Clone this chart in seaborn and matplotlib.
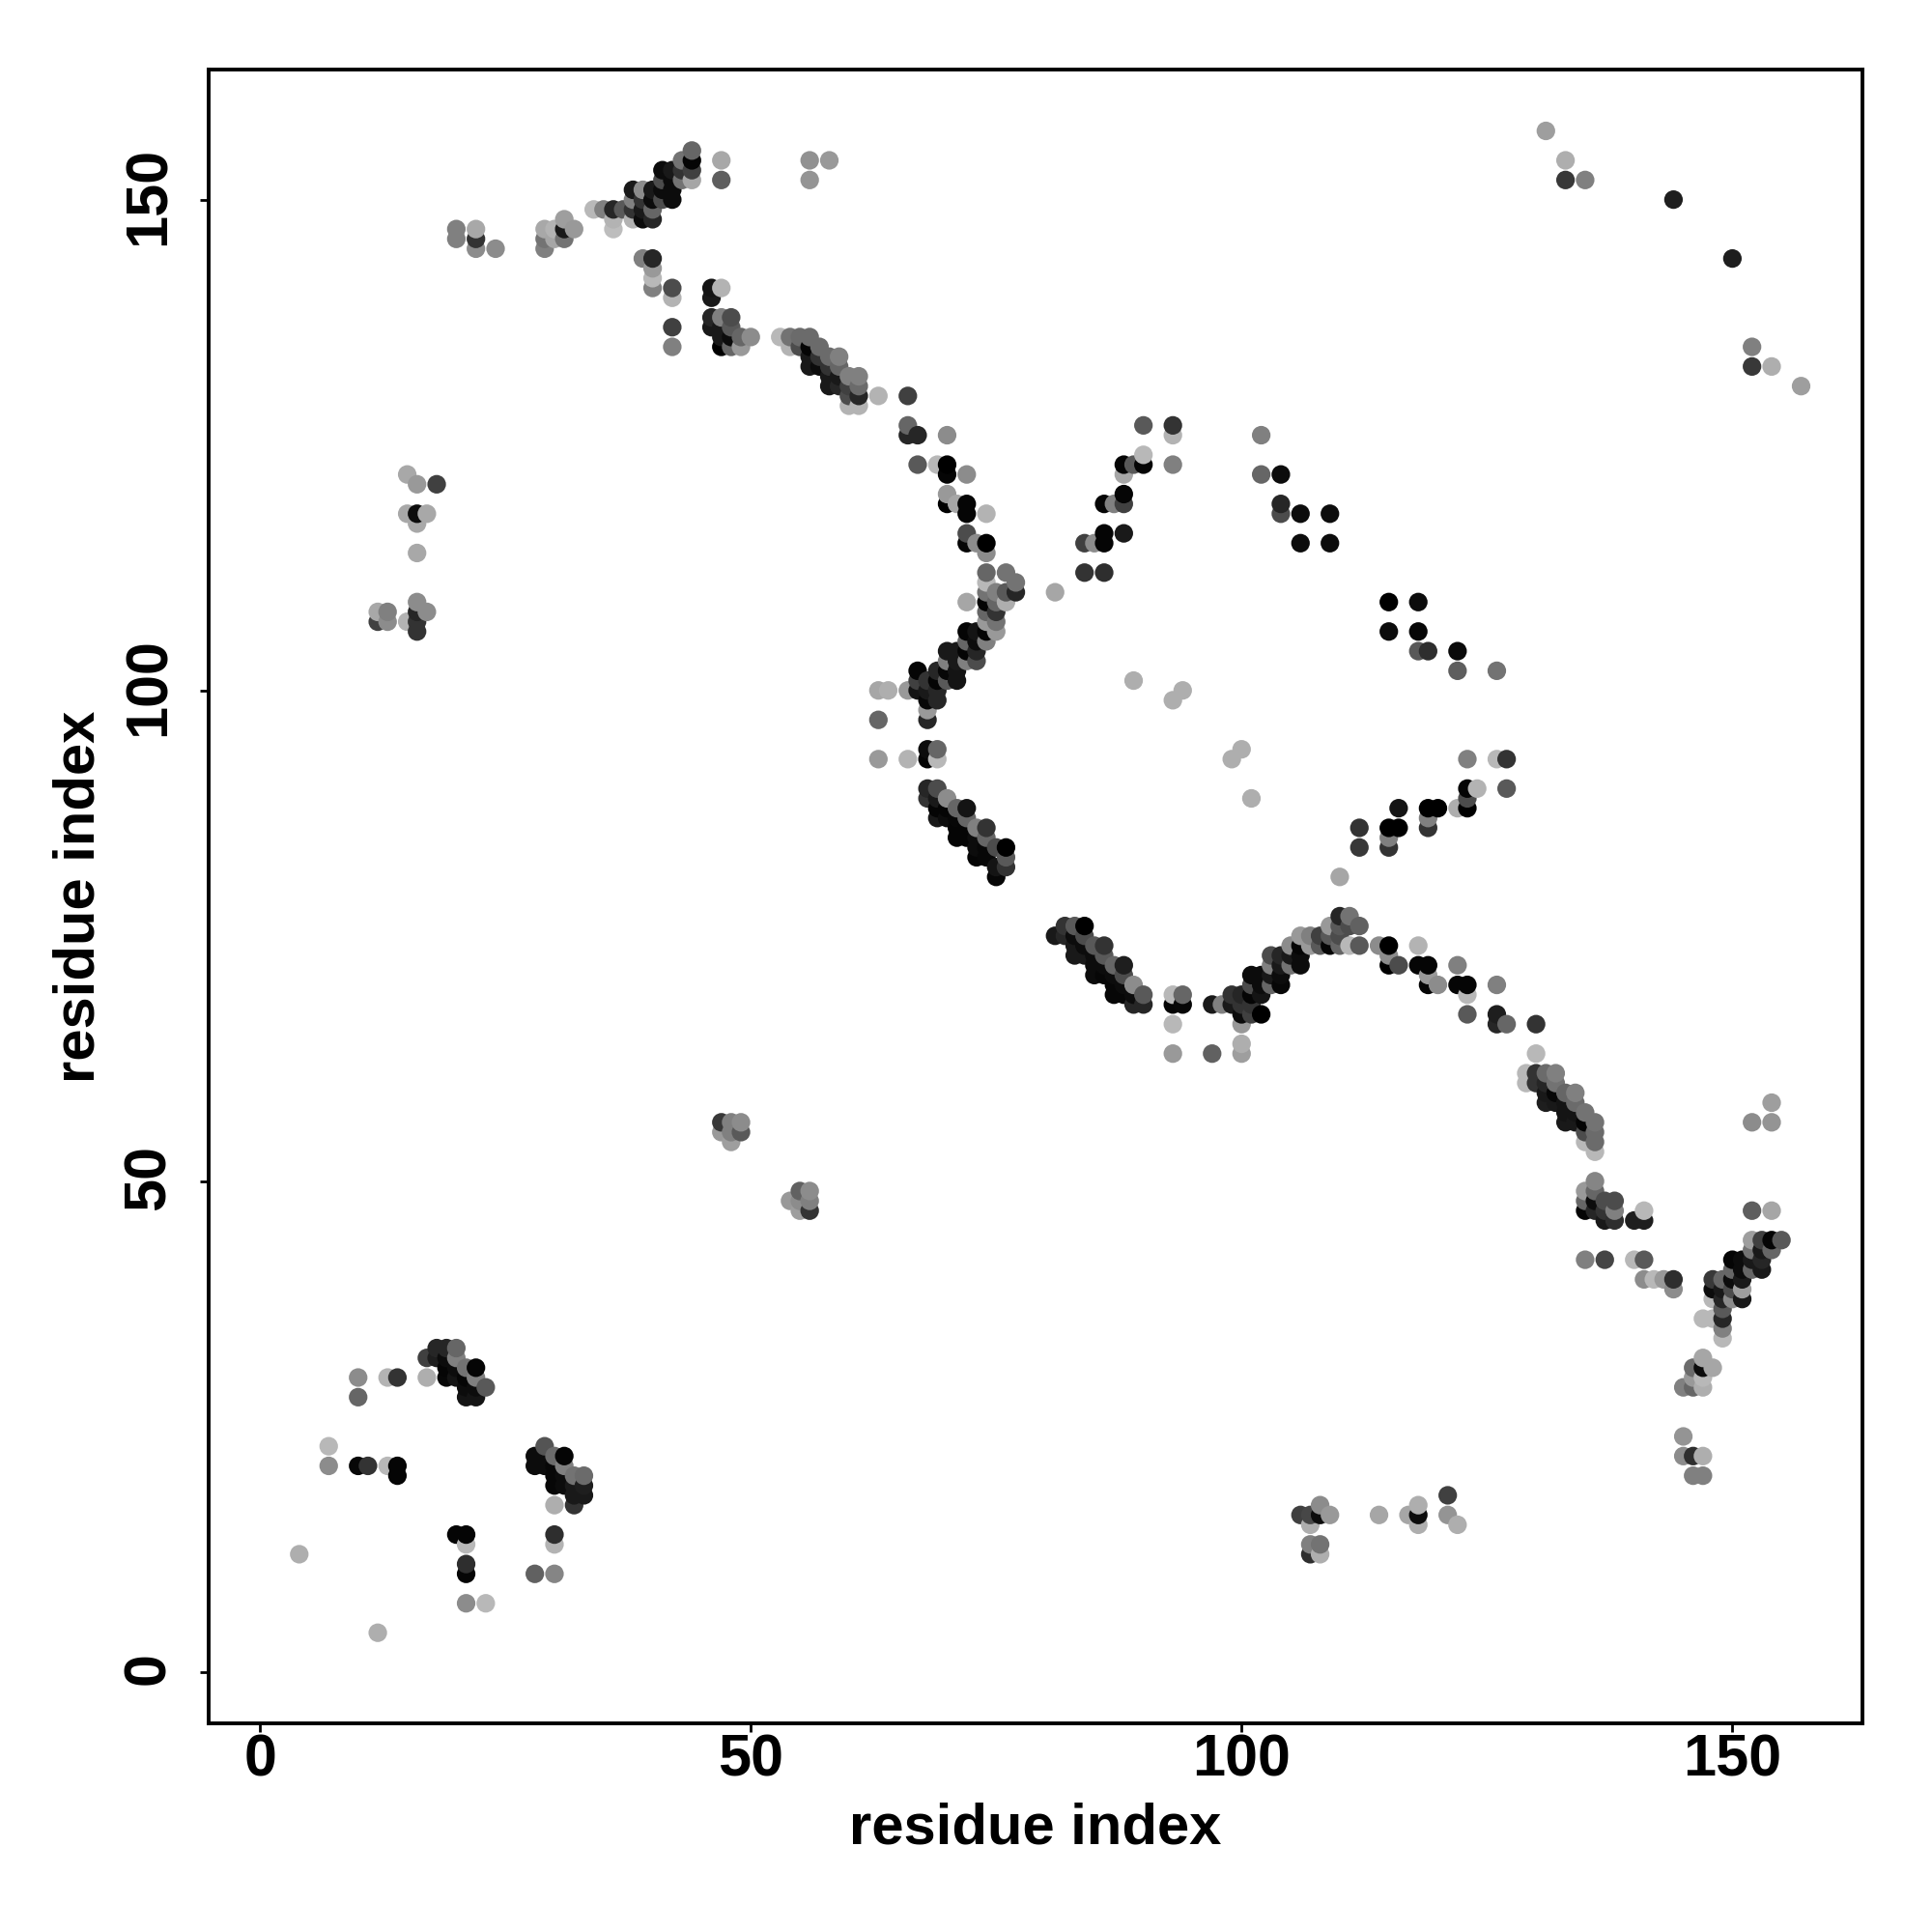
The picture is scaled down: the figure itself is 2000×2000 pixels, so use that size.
import matplotlib
matplotlib.use("Agg")
import matplotlib.pyplot as plt
from matplotlib.transforms import ScaledTranslation
import pandas as pd
import seaborn as sns

sns.set_style("white")
plt.rcParams["font.family"] = ["Liberation Sans", "DejaVu Sans"]
plt.rcParams["font.weight"] = "bold"

residue_x = [
 4,7,7,10,10,10,11,12,12,12,13,13,13,13,14,14,14,
 15,15,15,16,16,16,16,16,16,16,16,17,17,17,18,
 17,18,18,19,19,19,19,20,20,20,20,20,20,21,21,21,21,22,22,22,22,23,
 20,21,21,21,21,21,22,22,22,23,23,24,
 28,29,28,29,29,30,30,30,30,31,31,31,31,32,32,32,33,33,33,
 28,30,30,30,30,32,
 29,29,29,30,30,31,31,31,32,34,35,36,37,36,36,
 38,39,40,38,38,38,39,39,39,40,40,40,
 41,41,41,41,42,42,42,42,43,43,43,44,44,44,44,47,47,56,58,56,
 39,40,40,40,40,42,42,46,46,47,42,42,
 46,46,47,47,47,47,48,48,48,48,49,49,50,
 53,54,54,55,55,56,56,56,56,57,57,57,58,58,58,58,59,59,59,59,60,60,60,60,61,61,61,61,63,
 66,66,66,67,70,67,69,70,70,72,70,70,71,72,72,74,72,72,73,74,74,
 74,74,76,77,77,76,76,75,74,74,74,74,75,75,75,75,74,74,72,
 72,73,72,73,72,73,72,73,70,71,70,71,70,71,70,71,
 69,69,69,69,68,68,68,68,68,67,67,67,66,64,63,63,63,66,68,69,68,69,
 68,69,68,70,69,69,70,69,71,72,70,71,72,73,71,72,71,72,74,74,73,73,73,74,74,75,76,76,76,75,75,
 81,84,86,84,85,86,86,88,86,87,88,88,88,89,90,88,90,90,93,93,93,
 102,102,104,104,104,106,106,109,109,89,94,93,100,99,101,
 47,47,48,48,48,49,49,54,55,55,55,56,56,56,
 110,81,82,82,83,83,83,83,84,84,84,84,85,86,85,86,85,86,85,86,87,88,87,88,87,88,87,88,
 89,90,89,89,90,93,94,93,94,93,93,97,97,98,99,100,99,100,100,101,102,100,100,100,
 101,102,101,102,101,102,101,103,104,103,104,103,104,103,104,
 105,105,105,106,106,106,106,107,107,108,108,109,109,109,
 110,111,110,110,110,111,111,112,112,114,115,115,115,116,118,118,119,119,119,120,
 122,122,123,123,123,126,126,126,127,130,130,
 129,129,130,130,131,131,131,131,132,132,132,132,133,133,133,133,134,134,134,134,
 135,135,135,135,136,136,136,136,
 135,135,135,136,136,136,136,137,137,137,138,138,138,140,141,141,
 135,137,140,141,141,142,143,144,144,
 148,148,148,149,149,149,149,149,149,149,147,148,
 150,150,150,150,150,151,151,151,151,151,152,152,152,152,153,153,153,153,154,154,155,
 152,154,152,154,154,
 147,146,147,148,146,147,145,146,147,145,145,146,147,146,147,
 106,107,107,108,108,109,107,107,108,108,114,117,118,118,118,121,121,122,
 115,118,115,118,118,119,122,122,126,
 123,126,127,123,124,127,123,122,123,116,119,120,119,119,112,112,115,116,115,115,
 131,133,133,135,144,150,152,152,154,157,
]
residue_y = [
 12,23,21,30,28,21,21,4,107,108,30,21,108,107,30,21,20,
 122,118,107,121,118,117,114,109,108,107,106,118,108,30,121,
 32,33,32,33,32,31,30,33,32,31,30,147,146,31,30,29,28,31,30,29,28,29,
 14,14,13,11,10,7,147,146,145,7,29,145,
 10,23,22,22,21,22,21,20,19,22,21,20,19,20,19,18,20,19,18,
 21,10,14,13,17,17,
 147,146,145,147,146,148,147,146,147,149,149,149,149,148,147,
 151,151,151,150,149,148,150,149,148,150,149,148,
 153,152,151,150,153,152,151,150,154,153,152,155,154,153,152,154,152,154,154,152,
 144,144,143,142,141,141,140,141,140,141,137,135,
 138,137,138,137,136,135,138,137,136,135,136,135,136,
 136,136,135,136,135,136,135,134,133,135,134,133,134,133,132,131,134,133,132,131,132,131,130,129,132,131,130,129,130,
 130,127,126,126,126,123,123,123,122,122,120,119,119,119,118,118,116,115,115,115,114,
 112,111,112,111,110,110,109,110,110,109,108,107,109,108,107,106,106,105,109,
 106,106,105,105,104,104,103,103,104,104,103,103,102,102,101,101,
 102,101,100,99,101,100,99,98,97,102,101,100,100,100,100,97,93,93,94,94,93,93,
 90,90,89,89,89,88,88,87,88,88,87,87,87,86,86,86,85,85,86,85,85,84,83,84,83,84,84,83,82,82,81,
 110,112,112,115,115,115,116,116,119,119,119,120,123,123,123,122,124,127,127,126,123,
 126,122,122,119,118,118,115,118,115,101,100,99,94,93,89,
 56,55,56,55,54,56,55,48,49,48,47,49,48,47,
 81,75,76,75,76,75,74,73,76,75,74,73,74,74,73,73,72,72,71,71,72,72,71,71,70,70,69,69,
 70,69,69,68,68,69,69,68,68,66,63,68,63,68,69,69,68,68,67,67,67,66,64,63,
 71,71,70,70,69,69,68,73,73,72,72,71,71,70,70,
 74,73,72,73,72,75,74,75,74,75,74,76,75,74,
 77,77,76,75,74,76,74,76,74,74,74,73,72,72,74,72,72,71,70,70,
 72,70,70,69,67,70,67,66,66,66,63,
 61,60,61,60,61,60,59,58,61,60,59,58,59,58,57,56,59,58,57,56,
 57,56,55,54,56,55,54,53,
 49,48,47,50,49,48,47,48,47,46,48,47,46,46,47,46,
 42,42,42,42,40,40,40,40,39,
 40,39,38,40,39,38,37,36,35,34,36,36,
 42,41,40,39,38,42,41,40,39,38,44,43,42,41,44,43,42,41,44,43,44,
 47,47,56,56,58,
 32,31,31,31,30,30,29,29,29,24,22,22,22,20,20,
 16,16,15,17,16,16,13,12,13,12,16,16,17,16,15,18,16,15,
 109,109,106,106,104,104,104,102,102,
 93,93,93,90,90,90,89,88,88,88,88,88,87,86,86,84,86,86,85,84,
 157,154,152,152,150,144,135,133,133,131,
]
shade = [
 .68,.72,.55,.55,.4,.03,.2,.68,.25,.66,.7,.72,.5,.55,.2,.02,.02,
 .66,.66,.7,.6,.05,.66,.66,.55,.15,.2,.2,.66,.55,.68,.25,
 .25,.15,.12,.15,.05,.02,.03,.4,.5,.05,.08,.5,.5,.45,.02,.05,.08,.02,.5,.05,.08,.35,
 .02,.02,.72,.18,.02,.55,.66,.2,.55,.72,.35,.55,
 .38,.33,.05,.05,.05,.42,.03,.03,.03,.02,.5,.05,.05,.45,.1,.1,.42,.12,.1,
 .05,.52,.18,.7,.68,.2,
 .66,.45,.5,.7,.65,.62,.1,.45,.6,.72,.5,.15,.35,.7,.74,
 .1,.55,.1,.5,.2,.7,.2,.1,.05,.05,.4,.15,
 .05,.3,.05,.3,.1,.05,.05,.05,.45,.2,.45,.4,.02,.25,.65,.66,.37,.57,.6,.58,
 .5,.15,.6,.72,.5,.3,.7,.08,.1,.7,.25,.5,
 .15,.1,.5,.1,.1,.0,.3,.35,.05,.4,.4,.6,.55,
 .72,.45,.7,.42,.3,.42,.02,.1,.1,.42,.2,.05,.42,.2,.1,.1,.5,.4,.1,.15,.5,.25,.3,.7,.5,.42,.15,.7,.7,
 .25,.4,.15,.15,.55,.35,.72,.0,.02,.55,.6,.0,.65,.02,.02,.7,.3,.02,.55,.0,.55,
 .4,.72,.45,.45,.15,.35,.68,.5,.45,.02,.4,.6,.4,.2,.45,.6,.02,.5,.65,
 .02,.08,.4,.05,.02,.15,.5,.3,.1,.1,.5,.1,.03,.08,.35,.08,
 .15,.02,.15,.15,.2,.1,.03,.6,.15,.02,.25,.08,.6,.68,.65,.4,.6,.7,.05,.4,.02,.72,
 .15,.3,.2,.55,.1,.02,.02,.1,.4,.08,.05,.03,.4,.5,.02,.02,.02,.02,.2,.4,.05,.05,.02,.03,.03,.3,.0,.35,.2,.08,.03,
 .65,.2,.18,.25,.55,.02,.02,.1,.02,.5,.25,.02,.02,.35,.02,.65,.72,.35,.2,.7,.5,
 .5,.4,.05,.15,.3,.05,.05,.05,.05,.68,.68,.68,.68,.68,.68,
 .22,.6,.5,.5,.62,.55,.35,.6,.38,.55,.62,.55,.5,.2,
 .65,.1,.2,.15,.35,.05,.1,.1,.0,.3,.05,.1,.35,.2,.05,.35,.05,.05,.05,.03,.4,.12,.05,.3,.03,.05,.03,.03,
 .55,.35,.05,.15,.15,.72,.4,.02,.03,.72,.6,.1,.38,.5,.2,.15,.1,.2,.05,.25,.0,.6,.68,.62,
 .05,.05,.3,.05,.02,.08,.2,.3,.15,.5,.1,.1,.05,.4,.03,
 .55,.1,.45,.05,.05,.6,.02,.5,.6,.25,.35,.6,.35,.02,
 .15,.45,.35,.3,.4,.3,.72,.38,.35,.55,.0,.55,.0,.3,.7,.02,.02,.6,.02,.55,
 .5,.02,.02,.72,.35,.5,.12,.15,.4,.2,.72,
 .72,.72,.2,.2,.42,.15,.1,.12,.5,.45,.03,.1,.4,.08,.08,.1,.5,.42,.08,.1,
 .45,.02,.3,.72,.45,.42,.42,.72,
 .6,.4,.02,.52,.4,.05,.15,.3,.2,.1,.3,.5,.18,.12,.72,.12,
 .5,.27,.72,.35,.55,.72,.6,.18,.55,
 .22,.05,.72,.4,.1,.15,.35,.15,.5,.72,.72,.72,
 .02,.4,.05,.3,.55,.05,.05,.1,.62,.1,.62,.45,.1,.4,.25,.1,.15,.1,.02,.4,.35,
 .37,.65,.55,.58,.62,
 .65,.42,.05,.65,.6,.72,.5,.4,.68,.58,.55,.18,.68,.5,.5,
 .25,.28,.68,.55,.05,.6,.5,.18,.45,.68,.65,.65,.68,.05,.68,.25,.58,.68,
 .0,.05,.05,.03,.35,.18,.04,.37,.45,
 .5,.72,.2,.02,.7,.35,.3,.68,.0,.08,.0,.0,.5,.2,.2,.22,.0,.0,.5,.2,
 .62,.68,.22,.5,.12,.12,.5,.22,.68,.62,
]

tick_values = [0, 50, 100, 150]
axis_label = "residue index"

contacts = pd.DataFrame({"i": residue_x, "j": residue_y, "shade": shade})
contacts = contacts.drop_duplicates(["i", "j"]).sort_values(["i", "j"], kind="stable")

fig = plt.figure(figsize=(10, 10), dpi=200, facecolor="white")
ax = fig.add_axes([216.3 / 2000, 1 - 1783.7 / 2000, (1928 - 216.3) / 2000, (1783.7 - 72) / 2000])

sns.scatterplot(data=contacts, x="i", y="j", hue="shade", palette="gray", hue_norm=(0, 1),
                s=48, linewidth=0, legend=False, ax=ax, zorder=3)

ax.set_xlim(-5.2, 163.25)
ax.set_ylim(-5.2, 163.25)
ax.set_xticks(tick_values)
ax.set_yticks(tick_values)
ax.tick_params(axis="both", length=3.3, width=1.0, color="black", labelcolor="black",
               labelsize=22, left=True, bottom=True)
ax.tick_params(axis="x", pad=0.5)
ax.tick_params(axis="y", pad=8.5)
up = ScaledTranslation(0, 1.4 / 72, fig.dpi_scale_trans)
for lab in ax.get_yticklabels():
    lab.set_rotation(90)
    lab.set_va("center")
    lab.set_transform(lab.get_transform() + up)
for spine in ax.spines.values():
    spine.set_visible(True)
    spine.set_color("black")
    spine.set_linewidth(1.4)

ax.set_xlabel(axis_label, fontsize=21.5, fontweight="bold", color="black", va="center")
ax.set_ylabel(axis_label, fontsize=21.5, fontweight="bold", color="black", va="center")
ax.xaxis.set_label_coords(0.5, -0.064)
ax.yaxis.set_label_coords(-0.0785, 0.5)
ax.grid(False)

fig.savefig("out.png", dpi=200, facecolor="white")
